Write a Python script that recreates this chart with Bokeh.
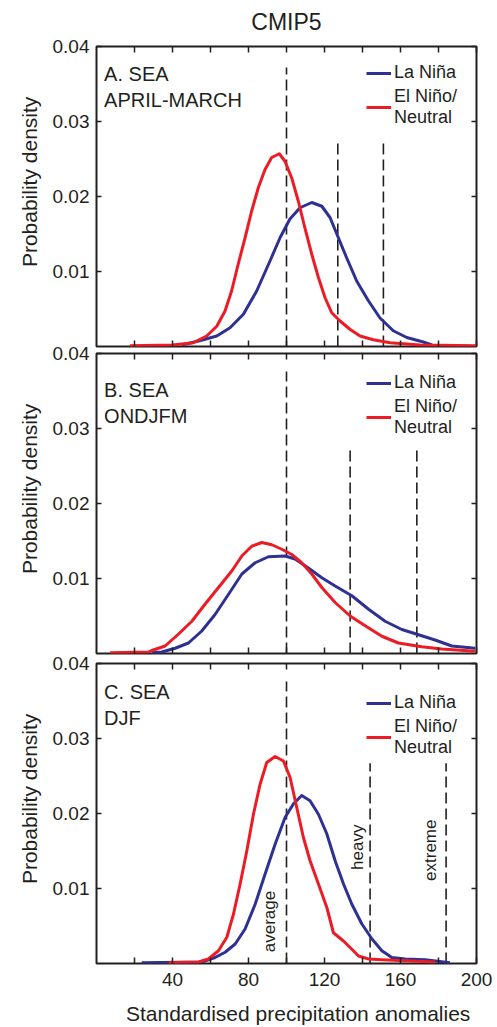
from bokeh.plotting import figure
from bokeh.layouts import column
from bokeh.models import Range1d, LinearAxis, FixedTicker, Label, Legend, LegendItem
from bokeh.embed import file_html
from bokeh.resources import INLINE

FONT = "Liberation Sans"
TXT = "#231f20"
BLUE = "#2e3192"
RED = "#ed1c24"

# ---------------- data ----------------
x_ticks = [20, 40, 60, 80, 100, 120, 140, 160, 180, 200]
x_labels = [40, 80, 120, 160, 200]
y_ticks = [0.01, 0.02, 0.03, 0.04]
zone_names = ["average", "heavy", "extreme"]

# Panel A: SEA, April-March
a_lanina_x = [44.9, 50.0, 56.2, 63.3, 70.3, 77.3, 84.3, 91.3, 96.6, 101.8, 107.1, 113.3,
              118.6, 122.9, 127.3, 131.7, 137.0, 143.1, 149.2, 156.2, 163.3, 172.0, 176.6]
a_lanina_y = [0.0002, 0.0005, 0.0009, 0.0014, 0.0025, 0.0043, 0.0074, 0.0114, 0.0145, 0.0170,
              0.0185, 0.0192, 0.0187, 0.0172, 0.0145, 0.0118, 0.0087, 0.0061, 0.0038, 0.0021,
              0.0012, 0.0006, 0.0002]
a_elnino_x = [17.6, 40.0, 50.9, 58.0, 63.3, 67.6, 71.1, 74.6, 78.2, 81.7, 85.2, 88.7, 92.2,
              96.2, 99.2, 102.7, 106.2, 109.7, 113.3, 116.8, 120.3, 123.8, 128.2, 133.4,
              138.7, 145.7, 154.5, 170.3, 200.0]
a_elnino_y = [0.0001, 0.0002, 0.0005, 0.0014, 0.0027, 0.0047, 0.0074, 0.0110, 0.0145, 0.0181,
              0.0212, 0.0236, 0.0252, 0.0257, 0.0247, 0.0225, 0.0194, 0.0158, 0.0123, 0.0092,
              0.0065, 0.0045, 0.0034, 0.0023, 0.0014, 0.0009, 0.0005, 0.0002, 0.0001]
a_thresholds = [100, 127, 151]
a_threshold_tops = [0.0372, 0.0272, 0.0272]

# Panel B: SEA, ONDJFM
b_lanina_x = [29.1, 34.4, 41.4, 48.4, 55.4, 62.4, 69.5, 76.5, 83.5, 90.5, 99.3, 104.5,
              111.5, 118.6, 125.6, 134.4, 143.2, 151.9, 160.7, 169.5, 178.2, 187.0, 199.3]
b_lanina_y = [0.0001, 0.0002, 0.0007, 0.0014, 0.0030, 0.0052, 0.0079, 0.0106, 0.0121, 0.0129,
              0.0130, 0.0126, 0.0114, 0.0101, 0.0090, 0.0077, 0.0059, 0.0043, 0.0032, 0.0025,
              0.0018, 0.0010, 0.0007]
b_elnino_x = [7.2, 27.3, 29.1, 36.1, 43.2, 50.2, 57.2, 64.2, 71.2, 76.5, 81.7, 87.0, 92.3,
              97.5, 102.8, 108.0, 113.3, 118.6, 125.6, 133.5, 141.4, 150.2, 158.9, 171.2,
              181.7, 199.3]
b_elnino_y = [0.0001, 0.0002, 0.0004, 0.0010, 0.0026, 0.0043, 0.0066, 0.0088, 0.0110, 0.0130,
              0.0143, 0.0148, 0.0145, 0.0139, 0.0132, 0.0121, 0.0106, 0.0088, 0.0068, 0.0050,
              0.0037, 0.0023, 0.0014, 0.0009, 0.0006, 0.0003]
b_thresholds = [100, 133.5, 168.6]
b_threshold_tops = [0.0376, 0.0276, 0.0276]

# Panel C: SEA, DJF
c_lanina_x = [23.8, 55.4, 62.4, 67.7, 73.0, 78.2, 83.5, 88.7, 94.0, 99.3, 103.7, 108.0,
              112.4, 116.8, 121.2, 125.6, 130.0, 134.4, 139.6, 144.9, 150.2, 155.4, 162.4,
              173.0, 186.0]
c_lanina_y = [0.0001, 0.0002, 0.0008, 0.0015, 0.0026, 0.0046, 0.0079, 0.0119, 0.0159, 0.0195,
              0.0213, 0.0224, 0.0217, 0.0199, 0.0173, 0.0137, 0.0106, 0.0079, 0.0053, 0.0033,
              0.0017, 0.0008, 0.0006, 0.0005, 0.0001]
c_elnino_x = [37.9, 53.7, 58.9, 64.2, 68.6, 72.1, 75.6, 79.1, 82.6, 86.1, 89.6, 94.0, 98.4,
              101.9, 105.4, 108.9, 112.4, 116.8, 121.2, 124.7, 130.0, 134.4, 137.9, 143.2,
              150.2, 178.2]
c_elnino_y = [0.0001, 0.0002, 0.0006, 0.0017, 0.0035, 0.0066, 0.0106, 0.0150, 0.0199, 0.0239,
              0.0268, 0.0276, 0.0270, 0.0248, 0.0208, 0.0168, 0.0137, 0.0106, 0.0075, 0.0041,
              0.0030, 0.0019, 0.0010, 0.0006, 0.0005, 0.0002]
c_thresholds = [100, 144, 184]
c_threshold_tops = [0.0376, 0.0267, 0.0267]

NBSP = "\u00a0"


def tick_only(ax, ticks, length):
    ax.ticker = FixedTicker(ticks=ticks)
    ax.axis_line_color = None
    ax.major_tick_in = length
    ax.major_tick_out = 0
    ax.major_tick_line_width = 1.5
    ax.major_tick_line_color = TXT
    ax.minor_tick_line_color = None
    ax.major_label_text_color = None
    ax.major_label_text_font_size = "0px"
    ax.major_label_standoff = 0


def make_panel(title_text, lx, ly, ex, ey, thr, thr_top, min_top, min_bottom,
               legend_loc, label_offset, bottom_labels=False, zone_labels=False,
               main_title=None, overlap=0):
    p = figure(frame_width=380, frame_height=300,
               x_range=Range1d(0, 200), y_range=Range1d(0, 0.04),
               output_backend="svg", toolbar_location=None,
               min_border_left=96, min_border_right=21,
               min_border_top=min_top, min_border_bottom=min_bottom,
               background_fill_color="white", border_fill_color="white",
               border_fill_alpha=0 if overlap else 1,
               margin=(-overlap, 0, 0, 0))
    xa = p.xaxis[0]
    ya = p.yaxis[0]
    p.grid.visible = False
    p.outline_line_color = TXT
    p.outline_line_width = 2
    p.outline_line_alpha = 1.0

    # left axis
    ya.ticker = FixedTicker(ticks=y_ticks)
    ya.axis_line_color = None
    ya.major_tick_in = 5
    ya.major_tick_out = 0
    ya.major_tick_line_width = 1.5
    ya.major_tick_line_color = TXT
    ya.minor_tick_line_color = None
    ya.major_label_text_font = FONT
    ya.major_label_text_font_size = "19px"
    ya.major_label_text_color = TXT
    ya.major_label_standoff = 7
    ya.axis_label = NBSP * 5 + "Probability density"
    ya.axis_label_text_font = FONT
    ya.axis_label_text_font_size = "21px"
    ya.axis_label_text_font_style = "normal"
    ya.axis_label_text_color = TXT
    ya.axis_label_standoff = 9

    # right and top axes (ticks only); the top axis of panel A carries the title
    ra = LinearAxis()
    tick_only(ra, y_ticks, 5)
    p.add_layout(ra, "right")
    ta = LinearAxis()
    tick_only(ta, x_ticks, 6)
    if main_title:
        ta.axis_label = main_title
        ta.axis_label_text_font = FONT
        ta.axis_label_text_font_size = "23px"
        ta.axis_label_text_font_style = "normal"
        ta.axis_label_text_color = TXT
        ta.axis_label_standoff = 12
    p.add_layout(ta, "above")

    # bottom axis
    if bottom_labels:
        xa.ticker = FixedTicker(ticks=x_ticks)
        xa.axis_line_color = None
        xa.major_tick_in = 6
        xa.major_tick_out = 0
        xa.major_tick_line_width = 1.5
        xa.major_tick_line_color = TXT
        xa.minor_tick_line_color = None
        xa.major_label_overrides = {t: (str(t) if t in x_labels else "") for t in x_ticks}
        xa.major_label_text_font = FONT
        xa.major_label_text_font_size = "19px"
        xa.major_label_text_color = TXT
        xa.major_label_standoff = 9
        xa.axis_label = NBSP * 4 + "Standardised precipitation anomalies"
        xa.axis_label_text_font = FONT
        xa.axis_label_text_font_size = "21px"
        xa.axis_label_text_font_style = "normal"
        xa.axis_label_text_color = TXT
        xa.axis_label_standoff = 13
    else:
        tick_only(xa, x_ticks, 6)

    # threshold lines
    p.segment(x0=thr, y0=[0] * len(thr), x1=thr, y1=thr_top,
              line_color=TXT, line_width=1.6, line_dash="11 5")

    # curves
    rb = p.line(lx, ly, line_color=BLUE, line_width=3, line_join="round")
    rr = p.line(ex, ey, line_color=RED, line_width=3, line_join="round")

    legend = Legend(items=[LegendItem(label="La Niña", renderers=[rb]),
                           LegendItem(label="El Niño/\nNeutral", renderers=[rr])],
                    location=legend_loc, margin=0, padding=0, spacing=3,
                    border_line_color=None, background_fill_alpha=0,
                    label_text_font=FONT, label_text_font_size="18px",
                    label_text_color=TXT, label_standoff=3,
                    glyph_width=25, glyph_height=20, label_height=20)
    p.add_layout(legend)

    p.add_layout(Label(x=4, y=0.04, x_offset=0, y_offset=label_offset, text=title_text,
                       text_font=FONT, text_font_size="20px", text_color=TXT,
                       text_baseline="top", text_align="left", text_line_height=1.2))

    if zone_labels:
        offs = [-17, -13, -16]
        ys = [0.0056, 0.0155, 0.0151]
        for name, xv, yv, xo in zip(zone_names, thr, ys, offs):
            p.add_layout(Label(x=xv, y=yv, x_offset=xo, text=name, angle=1.5708,
                               text_font=FONT, text_font_size="17px", text_color=TXT,
                               text_align="center", text_baseline="middle"))
    return p


pa = make_panel("A. SEA\nAPRIL-MARCH", a_lanina_x, a_lanina_y, a_elnino_x, a_elnino_y,
                a_thresholds, a_threshold_tops, 46, 2, (270, 218), -16, main_title="CMIP5")
pb = make_panel("B. SEA\nONDJFM", b_lanina_x, b_lanina_y, b_elnino_x, b_elnino_y,
                b_thresholds, b_threshold_tops, 15, 3, (270, 215), -25, overlap=10)
pc = make_panel("C. SEA\nDJF", c_lanina_x, c_lanina_y, c_elnino_x, c_elnino_y,
                c_thresholds, c_threshold_tops, 17, 62, (270, 205), -17,
                bottom_labels=True, zone_labels=True, overlap=10)

layout = column(pa, pb, pc, spacing=0)
open("out.html", "w").write(file_html(layout, INLINE))
